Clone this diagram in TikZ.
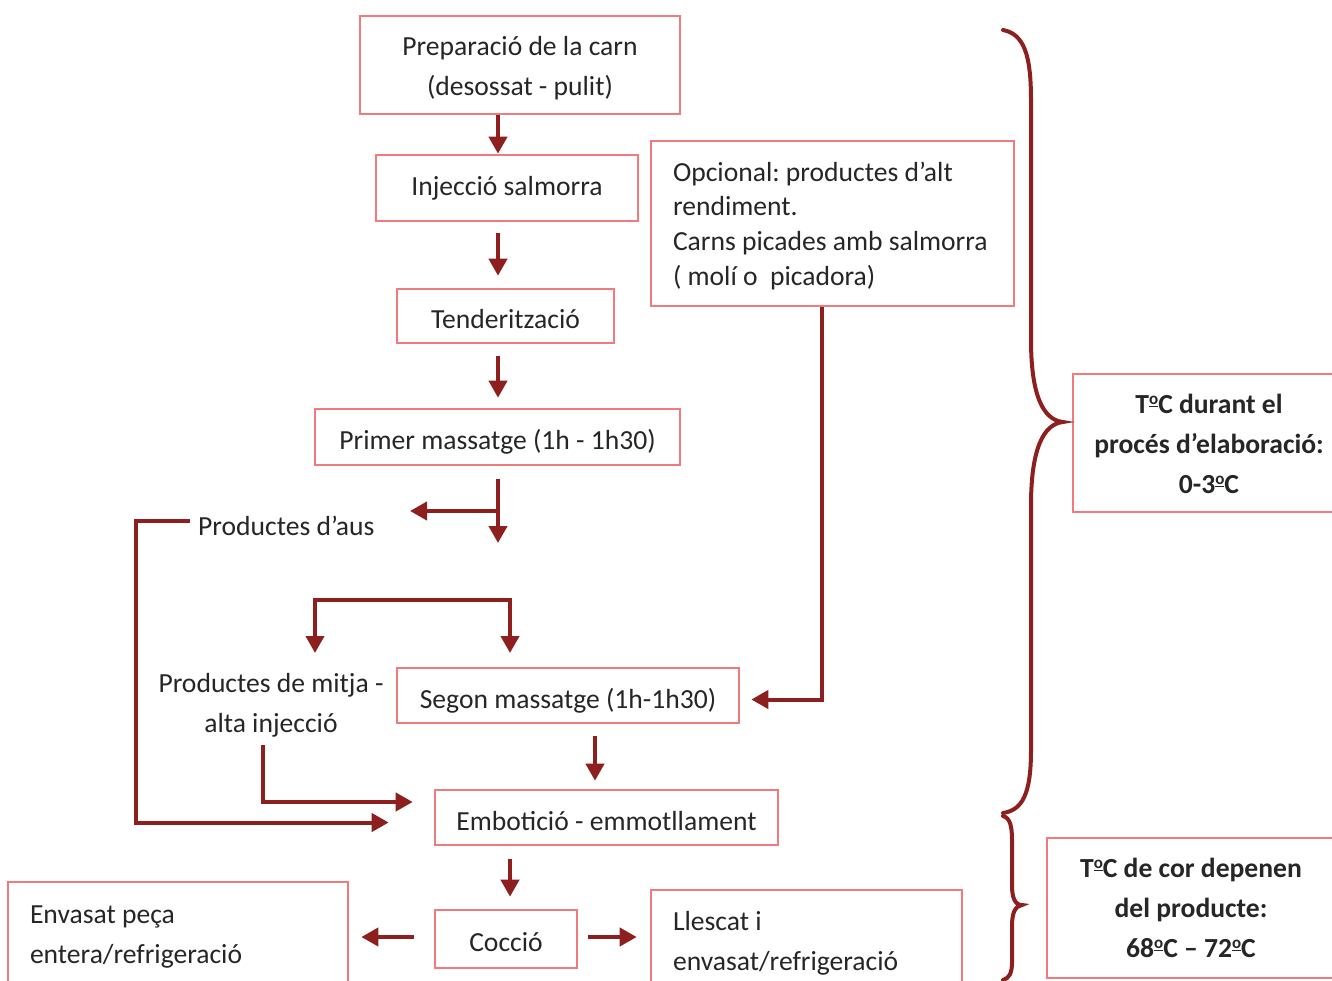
\documentclass[tikz,border=0pt]{standalone}
\usepackage{fontspec}
\setmainfont{Carlito}
\usetikzlibrary{arrows.meta,calc}
\definecolor{boxc}{HTML}{F07A7E}
\definecolor{arr}{HTML}{8E1F1F}
\newcommand\ordo{\raisebox{0.7ex}{\fontsize{17}{17}\selectfont\underline{o}}}
\newcommand\lift[1]{\rule{0pt}{#1}}
\frenchspacing
\begin{document}
\frenchspacing
\begin{tikzpicture}[x=1pt,y=-1pt,
  box/.style={draw=boxc,line width=2.6pt,inner sep=0pt,text=black!85,
    font=\fontsize{27.6}{40}\selectfont\frenchspacing},
  one/.style={box,text height=25pt,text depth=0pt},
  bbox/.style={box,font=\fontsize{27.6}{40}\selectfont\bfseries,align=center},
  plain/.style={inner sep=0pt,text=black!85,font=\fontsize{27.6}{40}\selectfont},
  conn/.style={draw=arr,line width=4pt,-{Triangle[length=17pt,width=18pt]}},
  conn2/.style={draw=arr,line width=4pt,{Triangle[length=17pt,width=18pt]}-{Triangle[length=17pt,width=18pt]}},
  brace/.style={draw=arr,line width=4pt,line cap=round}]
\useasboundingbox (0,0) rectangle (1332,980);
\clip (0,0) rectangle (1332,980);
\fill[white] (0,0) rectangle (1332,980);

% boxes
\node[box,minimum width=320pt,minimum height=98pt,align=center] (prep) at (520,65)
  {\lift{26pt}Preparació de la carn\\(desossat - pulit)};
\node[box,minimum width=262pt,minimum height=66pt] (inj) at (507,188) {Injecció salmorra};
\node[one,minimum width=217pt,minimum height=54pt] (tend) at (505.5,316) {Tenderització};
\node[one,minimum width=365pt,minimum height=56pt] (prim) at (497.5,437) {Primer massatge (1h - 1h30)};
\node[box,minimum width=363pt,minimum height=165pt,text width=319pt,align=flush left,
  font=\fontsize{27.6}{34.7}\selectfont\frenchspacing] (opc) at (832.5,223.5)
  {\lift{24pt}Opcional: productes d’alt\\rendiment.\\Carns picades amb salmorra\\( molí o\ \ picadora)};
\node[one,minimum width=342pt,minimum height=55pt] (seg) at (568,695.5) {Segon massatge (1h-1h30)};
\node[one,minimum width=343pt,minimum height=55pt] (emb) at (606.5,817.5) {Embotició - emmotllament};
\node[one,minimum width=142pt,minimum height=58pt] (coc) at (506,939) {Cocció};
\node[box,minimum width=340pt,minimum height=102pt,text width=296pt,align=flush left] (env) at (178,933)
  {\lift{25pt}Envasat peça\\entera/refrigeració};
\node[box,minimum width=311pt,minimum height=102pt,text width=267pt,align=flush left] (lle) at (806.5,941)
  {\lift{24pt}Llescat i\\envasat/refrigeració};
\node[bbox,minimum width=272pt,minimum height=138pt] (tc1) at (1209,443)
  {\lift{22pt}T\ordo C durant el\\procés d’elaboració:\\0-3\ordo C};
\node[bbox,minimum width=288pt,minimum height=140pt] (tc2) at (1191,908)
  {T\ordo C de cor depenen\\del producte:\\68\ordo C – 72\ordo C};

% free texts
\node[plain,anchor=west] (aus) at (198,526) {Productes d’aus};
\node[plain,align=center] (mitja) at (271,705) {Productes de mitja -\\alta injecció};

% helper coordinates
\coordinate (spine) at (498,0);
\coordinate (split) at (498,511);
\coordinate (down1) at (498,543);
\coordinate (ausTip) at (410,511);
\coordinate (bl) at (315,653);
\coordinate (brc) at (510,653);

% connectors
\draw[conn] (prep.south -| spine) -- ($(inj.north -| spine)+(0,0)$);
\draw[conn] ($(inj.south -| spine)+(0,11)$) -- ($(tend.north -| spine)+(0,-12)$);
\draw[conn] ($(tend.south -| spine)+(0,12)$) -- ($(prim.north -| spine)+(0,-10)$);
\draw[conn] ($(prim.south -| spine)+(0,13)$) -- (down1);
\draw[conn] (split) -- (ausTip);
\draw[conn] ($(aus.west)+(-8,-5)$) -- (136,521) |- ($(emb.west)+(-45,5)$);
\draw[conn2] (bl) -- (315,600) -- (510,600) -- (brc);
\draw[conn] ($(mitja.south)+(-8,8)$) |- ($(emb.west)+(-21,-15.5)$);
\draw[conn] (opc.south -| 822,0) |- ($(seg.east)+(11,4)$);
\draw[conn] ($(seg.south -| 595,0)+(0,12)$) -- ($(emb.north -| 595,0)+(0,-8)$);
\draw[conn] ($(emb.south -| 510,0)+(0,13)$) -- ($(coc.north -| 510,0)+(0,-12)$);
\draw[conn] ($(coc.west)+(-20,-2)$) -- ($(env.east)+(12,4)$);
\draw[conn] ($(coc.east)+(10,-2)$) -- ($(lle.west)+(-13,-4)$);

% braces
\draw[brace] (1003,30) .. controls (1024,34) and (1031,55) .. (1031,100)
  -- (1031,340) .. controls (1031,395) and (1043,420) .. (1063,422)
  .. controls (1043,424) and (1031,450) .. (1031,505)
  -- (1031,750) .. controls (1031,795) and (1022,810) .. (1003,813);
\draw[brace] (1003,816) .. controls (1010,818) and (1012,826) .. (1012,840)
  -- (1012,885) .. controls (1012,898) and (1015,905) .. (1022,905)
  .. controls (1015,906) and (1012,913) .. (1012,926)
  -- (1012,962) .. controls (1012,974) and (1009,978) .. (1003,980);
\end{tikzpicture}
\end{document}
